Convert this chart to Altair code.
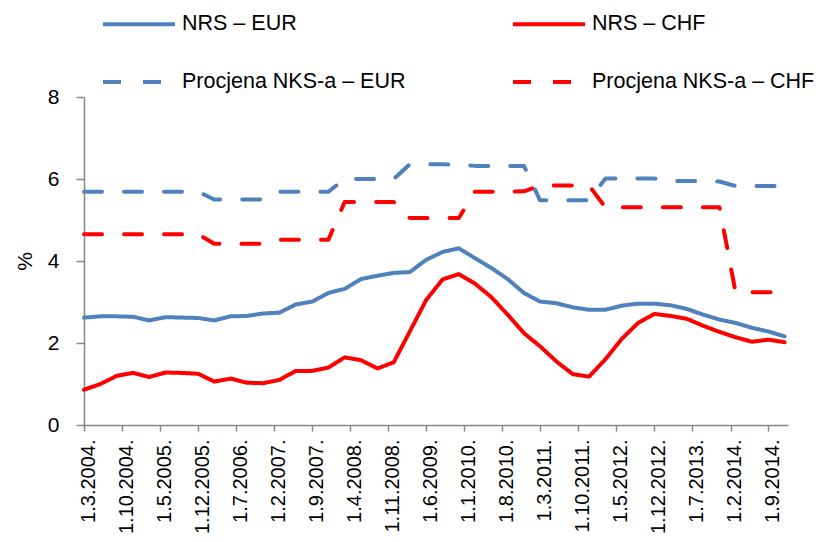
import altair as alt
import pandas as pd

# Quarterly observation dates
dates = [
    "2004-03-01", "2004-06-01", "2004-09-01", "2004-12-01",
    "2005-03-01", "2005-06-01", "2005-09-01", "2005-12-01",
    "2006-03-01", "2006-06-01", "2006-09-01", "2006-12-01",
    "2007-03-01", "2007-06-01", "2007-09-01", "2007-12-01",
    "2008-03-01", "2008-06-01", "2008-09-01", "2008-12-01",
    "2009-03-01", "2009-06-01", "2009-09-01", "2009-12-01",
    "2010-03-01", "2010-06-01", "2010-09-01", "2010-12-01",
    "2011-03-01", "2011-06-01", "2011-09-01", "2011-12-01",
    "2012-03-01", "2012-06-01", "2012-09-01", "2012-12-01",
    "2013-03-01", "2013-06-01", "2013-09-01", "2013-12-01",
    "2014-03-01", "2014-06-01", "2014-09-01", "2014-12-01",
]

nrs_eur = [2.62, 2.65, 2.65, 2.64, 2.55, 2.63, 2.62, 2.61, 2.55, 2.65, 2.66,
           2.72, 2.74, 2.94, 3.01, 3.22, 3.32, 3.56, 3.64, 3.71, 3.73, 4.03,
           4.22, 4.31, 4.07, 3.83, 3.56, 3.22, 3.01, 2.97, 2.87, 2.81, 2.81,
           2.91, 2.96, 2.96, 2.92, 2.83, 2.69, 2.57, 2.49, 2.37, 2.28, 2.16]

nrs_chf = [0.86, 1.00, 1.20, 1.27, 1.17, 1.28, 1.27, 1.25, 1.06, 1.13, 1.03,
           1.02, 1.10, 1.32, 1.32, 1.40, 1.65, 1.58, 1.38, 1.53, 2.28, 3.05,
           3.55, 3.68, 3.45, 3.12, 2.69, 2.24, 1.92, 1.55, 1.24, 1.18, 1.60,
           2.10, 2.49, 2.71, 2.66, 2.59, 2.42, 2.27, 2.14, 2.03, 2.08, 2.02]

nks_eur = [5.69, 5.69, 5.69, 5.69, 5.69, 5.69, 5.69, 5.69, 5.50, 5.50, 5.50,
           5.50, 5.69, 5.69, 5.69, 5.69, 6.00, 6.00, 6.00, 6.00, 6.36, 6.36,
           6.36, 6.35, 6.32, 6.32, 6.32, 6.32, 5.48, 5.48, 5.48, 5.48, 6.01,
           6.01, 6.01, 6.01, 5.95, 5.95, 5.95, 5.94, 5.83, 5.83, 5.83, 5.83]

nks_chf = [4.65, 4.65, 4.65, 4.65, 4.65, 4.65, 4.65, 4.65, 4.42, 4.42, 4.42,
           4.42, 4.52, 4.52, 4.52, 4.52, 5.44, 5.44, 5.44, 5.44, 5.05, 5.05,
           5.05, 5.05, 5.69, 5.69, 5.69, 5.70, 5.84, 5.84, 5.84, 5.84, 5.31,
           5.31, 5.31, 5.31, 5.31, 5.31, 5.31, 5.31, 3.24, 3.24, 3.24, 3.24]

series_names = ["NRS – EUR", "NRS – CHF", "Procjena NKS-a – EUR", "Procjena NKS-a – CHF"]
series_colors = ["#4F81BD", "#FF0000", "#4F81BD", "#FF0000"]
series_dashes = [[1, 0], [1, 0], [18, 22], [18, 22]]

tick_labels = ["1.3.2004.", "1.10.2004.", "1.5.2005.", "1.12.2005.", "1.7.2006.",
               "1.2.2007.", "1.9.2007.", "1.4.2008.", "1.11.2008.", "1.6.2009.",
               "1.1.2010.", "1.8.2010.", "1.3.2011.", "1.10.2011.", "1.5.2012.",
               "1.12.2012.", "1.7.2013.", "1.2.2014.", "1.9.2014."]
y_ticks = [0, 2, 4, 6, 8]

tick_values = []
for lab in tick_labels:
    d, m, y = [int(p) for p in lab.strip(".").split(".")]
    tick_values.append(alt.DateTime(year=y, month=m, date=d))

rows = []
for name, vals in zip(series_names, [nrs_eur, nrs_chf, nks_eur, nks_chf]):
    for d, v in zip(dates, vals):
        rows.append({"date": d.replace("-", "/"), "value": v, "series": name})
df = pd.DataFrame(rows)

FONT = "Liberation Sans"
AXIS_GRAY = "#868686"

legend_kw = dict(
    title=None,
    orient="none",
    direction="horizontal",
    legendX=17,
    legendY=-111,
    columns=2,
    columnPadding=99,
    rowPadding=9,
    symbolType="stroke",
    symbolSize=5184,
    symbolStrokeWidth=4,
    labelFontSize=21.5,
    labelFont=FONT,
    labelColor="black",
    labelOffset=5,
    labelLimit=400,
)

chart = alt.Chart(df).mark_line(
    strokeWidth=4, strokeCap="round", strokeJoin="round"
).encode(
    x=alt.X(
        "date:T",
        title=None,
        scale=alt.Scale(domain=[alt.DateTime(year=2004, month=3, date=1),
                                alt.DateTime(year=2014, month=12, date=20)]),
        axis=alt.Axis(
            values=tick_values,
            format="%-d.%-m.%Y.",
            labelAngle=270,
            labelAlign="right",
            labelBaseline="line-top",
            labelLineHeight=9,
            labelFontSize=20,
            labelFont=FONT,
            labelColor="black",
            labelOverlap=False,
            labelPadding=8,
            tickSize=6,
            tickColor=AXIS_GRAY,
            tickWidth=1.5,
            domainColor=AXIS_GRAY,
            domainWidth=1.5,
            grid=False,
        ),
    ),
    y=alt.Y(
        "value:Q",
        title="%",
        scale=alt.Scale(domain=[0, 8]),
        axis=alt.Axis(
            values=y_ticks,
            labelFontSize=21,
            labelFont=FONT,
            labelColor="black",
            labelPadding=17,
            tickSize=8,
            tickColor=AXIS_GRAY,
            tickWidth=1.5,
            domainColor=AXIS_GRAY,
            domainWidth=1.5,
            grid=False,
            titleFont=FONT,
            titleFontSize=21,
            titleFontWeight="normal",
            titleColor="black",
            titlePadding=12,
        ),
    ),
    color=alt.Color("series:N",
                    scale=alt.Scale(domain=series_names, range=series_colors),
                    legend=alt.Legend(**legend_kw)),
    strokeDash=alt.StrokeDash("series:N",
                              scale=alt.Scale(domain=series_names, range=series_dashes),
                              legend=alt.Legend(**legend_kw)),
    order=alt.Order("series:N"),
).properties(
    width=704,
    height=328,
    autosize=alt.AutoSizeParams(type="none"),
    padding={"left": 76, "top": 89, "right": 28, "bottom": 109},
).configure_view(stroke=None)

chart.save("out.html", embed_options={"renderer": "svg", "actions": False})
